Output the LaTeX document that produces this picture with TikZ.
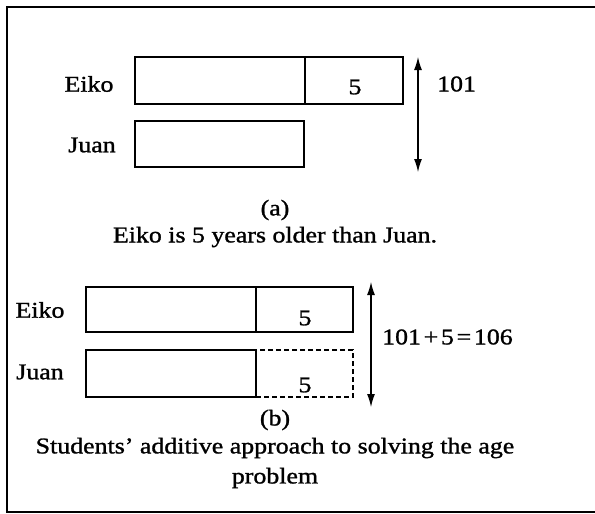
\documentclass[tikz,border=0pt]{standalone}
\usepackage{fontspec}
\setmainfont[FakeStretch=1.15,FakeBold=1.2]{Liberation Serif}
\usetikzlibrary{arrows.meta}

\begin{document}
\begin{tikzpicture}[>={Latex[length=13pt,width=8pt]}, x=1pt, y=-1pt,
  bar/.style={draw, line width=1.6pt, inner sep=0pt},
  dbar/.style={draw, dash pattern=on 5pt off 3pt, line width=1.3pt, inner sep=0pt},
  lbl/.style={font=\fontsize{22.5}{27}\selectfont}]
  \useasboundingbox (0,0) rectangle (595,514);
  \draw[line width=1.2pt] (595,7) -- (7,7) -- (7,512) -- (595,512);
  % (a)
  \node[lbl] (eikoA) at (89,84)  {Eiko};
  \node[lbl] (juanA) at (92,145) {Juan};
  \node[bar, minimum width=170pt, minimum height=47pt] (eA1) at (220,80.5) {};
  \node[bar, minimum width=98pt,  minimum height=47pt] (eA2) at (354,80.5) {};
  \node[bar, minimum width=169pt, minimum height=46pt] (jA1) at (219.5,144) {};
  \node[lbl] (fiveA) at (355,87) {5};
  \coordinate (topA) at (418,57);
  \coordinate (botA) at (418,172);
  \draw[<->, line width=1.2pt] (topA) -- (botA);
  \node[lbl, anchor=west, inner sep=0pt] (sumA) at (437,84) {101};
  \node[lbl] (capA) at (275,210) {(a)};
  \node[lbl] (txtA) at (275,237) {Eiko is 5 years older than Juan.};
  % (b)
  \node[lbl] (eikoB) at (40,310) {Eiko};
  \node[lbl] (juanB) at (40,372) {Juan};
  \node[dbar, minimum width=97pt, minimum height=47pt] (jB2) at (304.5,373.5) {};
  \node[bar, minimum width=170pt, minimum height=45pt] (eB1) at (171,309.5) {};
  \node[bar, minimum width=97pt,  minimum height=45pt] (eB2) at (304.5,309.5) {};
  \node[bar, minimum width=170pt, minimum height=47pt] (jB1) at (171,373.5) {};
  \node[lbl] (fiveB) at (305,318) {5};
  \node[lbl] (fiveC) at (305,385) {5};
  \coordinate (topB) at (371,282);
  \coordinate (botB) at (371,407);
  \draw[<->, line width=1.2pt] (topB) -- (botB);
  \node[lbl, anchor=west, inner sep=0pt] (sumB) at (382,337) {\spaceskip=0.12em 101 + 5 = 106};
  \node[lbl] (capB) at (275,420) {(b)};
  \node[lbl] (txtB) at (275,448) {Students’ additive approach to solving the age};
  \node[lbl] (txtC) at (275,478) {problem};
\end{tikzpicture}
\end{document}
